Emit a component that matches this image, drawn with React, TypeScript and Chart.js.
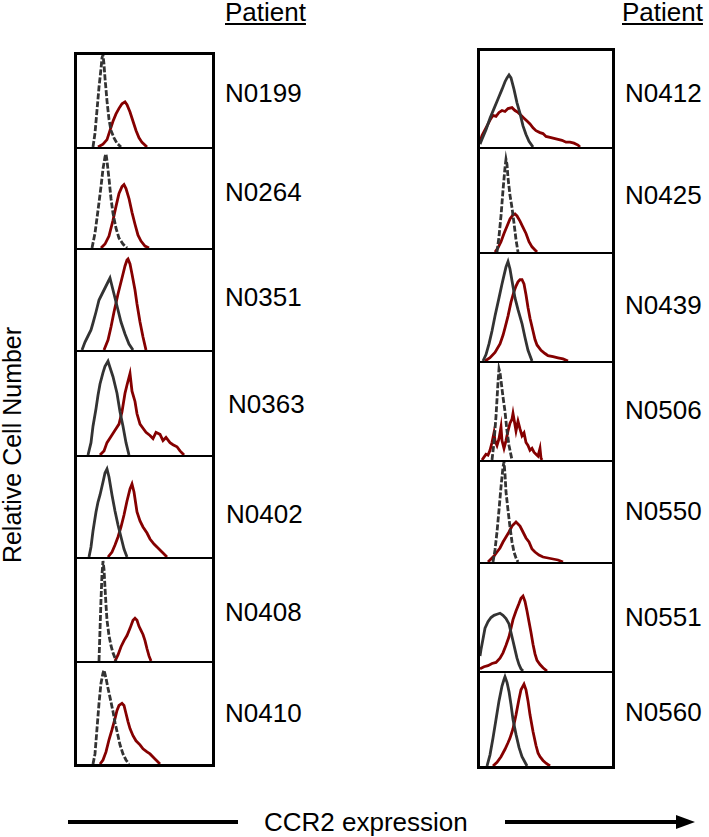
import React, { useEffect, useRef } from "react";
import { Chart, registerables } from "chart.js";
Chart.register(...registerables);

type Pt = [number, number];

const leftPatients = ["N0199", "N0264", "N0351", "N0363", "N0402", "N0408", "N0410"];
const rightPatients = ["N0412", "N0425", "N0439", "N0506", "N0550", "N0551", "N0560"];

// x = CCR2 fluorescence channel (relative), y = relative cell number (fraction of panel max)
const n0199Iso: Pt[] = [[18,0],[20,0.15],[22,0.4],[24,0.65],[26,0.85],[27,0.97],[28,1.0],[29,0.9],[30,0.75],[32,0.5],[34,0.3],[36,0.18],[39,0.1],[42,0.04],[46,0]];
const n0199Ccr2: Pt[] = [[23,0],[28,0.03],[32,0.08],[35,0.18],[38,0.28],[41,0.36],[44,0.42],[47,0.47],[50,0.49],[52,0.46],[55,0.38],[58,0.28],[61,0.18],[64,0.1],[67,0.05],[72,0]];
const n0264Iso: Pt[] = [[17,0],[20,0.15],[23,0.38],[26,0.62],[28,0.8],[30,0.92],[31,0.95],[32,0.88],[34,0.7],[36,0.5],[38,0.35],[41,0.2],[44,0.1],[48,0.04],[52,0]];
const n0264Ccr2: Pt[] = [[26,0],[30,0.04],[34,0.12],[38,0.28],[41,0.42],[44,0.55],[47,0.62],[49,0.64],[51,0.6],[54,0.5],[57,0.36],[60,0.24],[63,0.13],[66,0.07],[70,0.02],[74,0]];
const n0351Iso: Pt[] = [[7,0],[10,0.08],[13,0.14],[16,0.2],[18,0.27],[21,0.38],[24,0.5],[27,0.56],[30,0.62],[33,0.68],[35,0.72],[37,0.64],[40,0.52],[43,0.4],[46,0.28],[50,0.16],[54,0.06],[58,0]];
const n0351Ccr2: Pt[] = [[29,0],[33,0.1],[36,0.23],[39,0.38],[43,0.56],[45,0.64],[48,0.76],[50,0.84],[52,0.9],[53,0.91],[55,0.86],[57,0.76],[60,0.6],[62,0.46],[65,0.28],[68,0.13],[71,0]];
const n0363Iso: Pt[] = [[13,0],[16,0.12],[18,0.28],[21,0.45],[23,0.58],[25,0.69],[28,0.8],[30,0.86],[33,0.91],[35,0.85],[38,0.76],[42,0.6],[45,0.42],[48,0.28],[51,0.12],[54,0]];
const n0363Ccr2: Pt[] = [[25,0],[29,0.04],[32,0.12],[36,0.18],[40,0.24],[44,0.3],[47,0.42],[50,0.6],[52,0.68],[55,0.79],[57,0.62],[60,0.52],[62,0.4],[65,0.3],[68,0.26],[71,0.22],[75,0.19],[78,0.16],[81,0.22],[85,0.2],[88,0.14],[91,0.17],[95,0.12],[98,0.1],[102,0.08],[105,0.04],[109,0]];
const n0402Iso: Pt[] = [[14,0],[16,0.1],[18,0.26],[21,0.45],[23,0.55],[25,0.62],[28,0.75],[30,0.84],[32,0.88],[34,0.8],[37,0.62],[40,0.46],[43,0.32],[46,0.2],[49,0.08],[52,0]];
const n0402Ccr2: Pt[] = [[33,0],[37,0.05],[40,0.12],[43,0.2],[46,0.3],[49,0.42],[52,0.56],[55,0.68],[57,0.73],[59,0.65],[62,0.45],[65,0.36],[68,0.3],[72,0.24],[75,0.18],[79,0.13],[82,0.1],[86,0.06],[89,0.03],[92,0]];
const n0408Iso: Pt[] = [[24,0],[25,0.3],[26,0.6],[27,0.85],[28,0.98],[29,0.9],[30,0.72],[31,0.55],[32,0.4],[34,0.25],[36,0.15],[38,0.08],[40,0.03],[41,0]];
const n0408Ccr2: Pt[] = [[40,0],[43,0.06],[46,0.14],[49,0.2],[52,0.25],[55,0.32],[58,0.4],[60,0.42],[62,0.4],[64,0.34],[66,0.3],[68,0.26],[70,0.2],[72,0.12],[74,0.05],[76,0]];
const n0410Iso: Pt[] = [[18,0],[20,0.1],[22,0.35],[24,0.6],[26,0.8],[28,0.9],[29,0.93],[31,0.85],[33,0.75],[35,0.66],[38,0.52],[40,0.41],[43,0.28],[45,0.19],[48,0.1],[51,0.04],[54,0]];
const n0410Ccr2: Pt[] = [[25,0],[28,0.04],[31,0.12],[34,0.24],[37,0.34],[40,0.45],[42,0.53],[44,0.58],[47,0.6],[49,0.58],[51,0.5],[53,0.42],[55,0.35],[58,0.28],[61,0.23],[65,0.19],[68,0.15],[72,0.12],[75,0.1],[79,0.06],[82,0.03],[85,0]];

const n0412Iso: Pt[] = [[2,0.03],[4,0.08],[8,0.18],[12,0.3],[16,0.4],[20,0.5],[24,0.6],[27,0.68],[29,0.72],[31,0.75],[33,0.72],[36,0.6],[39,0.46],[42,0.35],[45,0.22],[48,0.13],[51,0.06],[55,0]];
const n0412Ccr2: Pt[] = [[2,0.05],[4,0.12],[8,0.2],[12,0.28],[15,0.33],[18,0.32],[21,0.36],[24,0.38],[27,0.37],[30,0.4],[34,0.41],[37,0.38],[40,0.36],[43,0.33],[46,0.3],[49,0.27],[52,0.24],[55,0.2],[58,0.17],[62,0.15],[65,0.14],[68,0.11],[72,0.1],[76,0.09],[80,0.08],[84,0.07],[88,0.05],[92,0.05],[96,0.04],[100,0.02],[102,0]];
const n0425Iso: Pt[] = [[19,0],[21,0.15],[23,0.35],[25,0.6],[27,0.82],[28,0.9],[29,0.85],[30,0.72],[32,0.55],[34,0.43],[36,0.28],[38,0.12],[40,0]];
const n0425Ccr2: Pt[] = [[17,0],[20,0.04],[23,0.1],[26,0.18],[29,0.25],[32,0.32],[35,0.36],[37,0.37],[39,0.35],[42,0.3],[45,0.24],[48,0.18],[51,0.1],[54,0.05],[57,0.02],[59,0]];
const n0439Iso: Pt[] = [[5,0],[8,0.06],[11,0.16],[14,0.28],[17,0.42],[21,0.59],[24,0.72],[26,0.8],[28,0.88],[30,0.93],[32,0.86],[34,0.75],[37,0.59],[40,0.48],[44,0.35],[47,0.22],[50,0.1],[54,0]];
const n0439Ccr2: Pt[] = [[7,0],[12,0.03],[17,0.08],[22,0.16],[25,0.24],[27,0.31],[30,0.42],[33,0.55],[36,0.65],[38,0.7],[40,0.74],[42,0.76],[44,0.76],[46,0.72],[48,0.62],[50,0.5],[52,0.4],[55,0.28],[57,0.2],[59,0.15],[63,0.1],[67,0.07],[70,0.05],[75,0.04],[80,0.03],[85,0.02],[90,0]];
const n0506Iso: Pt[] = [[14,0],[16,0.18],[18,0.45],[20,0.8],[21,0.94],[22,0.9],[23,0.82],[25,0.65],[27,0.5],[29,0.3],[31,0.15],[33,0.05],[34,0]];
const n0506Ccr2: Pt[] = [[4,0],[6,0.03],[8,0.06],[10,0.05],[12,0.1],[14,0.18],[16,0.28],[17,0.2],[19,0.15],[21,0.22],[23,0.34],[24,0.2],[26,0.12],[28,0.2],[30,0.3],[32,0.38],[34,0.42],[35,0.48],[37,0.36],[38,0.3],[40,0.4],[42,0.32],[44,0.25],[46,0.28],[48,0.18],[50,0.15],[52,0.1],[54,0.12],[56,0.08],[58,0.06],[60,0.04],[62,0.12],[63,0.02],[64,0]];
const n0550Iso: Pt[] = [[15,0],[17,0.12],[19,0.3],[21,0.52],[23,0.75],[25,0.95],[26,1.0],[27,0.88],[28,0.7],[30,0.52],[32,0.35],[34,0.2],[36,0.1],[38,0.04],[40,0]];
const n0550Ccr2: Pt[] = [[10,0],[13,0.03],[16,0.06],[19,0.1],[22,0.14],[25,0.2],[28,0.25],[31,0.3],[34,0.36],[36,0.38],[38,0.4],[40,0.38],[42,0.36],[45,0.3],[48,0.24],[51,0.2],[54,0.13],[57,0.1],[61,0.07],[65,0.05],[70,0.04],[75,0.03],[80,0.02],[85,0]];
const n0551Iso: Pt[] = [[2,0.14],[3,0.2],[5,0.3],[7,0.4],[10,0.46],[13,0.5],[16,0.52],[19,0.53],[22,0.54],[25,0.52],[28,0.49],[31,0.44],[33,0.36],[35,0.28],[37,0.2],[39,0.12],[41,0.06],[43,0.02],[45,0]];
const n0551Ccr2: Pt[] = [[2,0.02],[6,0.04],[10,0.05],[14,0.07],[18,0.08],[22,0.12],[25,0.17],[28,0.24],[31,0.32],[33,0.4],[35,0.48],[38,0.56],[41,0.63],[43,0.68],[45,0.7],[47,0.65],[49,0.56],[51,0.46],[53,0.36],[55,0.25],[57,0.16],[59,0.1],[62,0.06],[65,0.03],[69,0]];
const n0560Iso: Pt[] = [[9,0],[12,0.12],[15,0.3],[18,0.5],[21,0.7],[24,0.86],[26,0.93],[27,0.96],[29,0.9],[31,0.8],[33,0.66],[35,0.5],[38,0.34],[41,0.2],[44,0.1],[47,0.04],[49,0]];
const n0560Ccr2: Pt[] = [[15,0],[19,0.04],[23,0.1],[27,0.18],[30,0.25],[32,0.3],[35,0.4],[38,0.55],[41,0.72],[43,0.82],[46,0.88],[48,0.82],[50,0.7],[52,0.55],[55,0.37],[58,0.22],[60,0.14],[62,0.1],[65,0.06],[68,0.03],[72,0]];

const isoSeries: Record<string, Pt[]> = {
  N0199: n0199Iso, N0264: n0264Iso, N0351: n0351Iso, N0363: n0363Iso, N0402: n0402Iso, N0408: n0408Iso, N0410: n0410Iso,
  N0412: n0412Iso, N0425: n0425Iso, N0439: n0439Iso, N0506: n0506Iso, N0550: n0550Iso, N0551: n0551Iso, N0560: n0560Iso,
};
const ccr2Series: Record<string, Pt[]> = {
  N0199: n0199Ccr2, N0264: n0264Ccr2, N0351: n0351Ccr2, N0363: n0363Ccr2, N0402: n0402Ccr2, N0408: n0408Ccr2, N0410: n0410Ccr2,
  N0412: n0412Ccr2, N0425: n0425Ccr2, N0439: n0439Ccr2, N0506: n0506Ccr2, N0550: n0550Ccr2, N0551: n0551Ccr2, N0560: n0560Ccr2,
};
const dashedIso = ["N0199", "N0264", "N0408", "N0410", "N0425", "N0506", "N0550"];

// layout
const leftEdges = [52, 147, 248, 350, 455, 557, 661, 767];
const rightEdges = [48, 147, 252, 361, 460, 562, 671, 769];
const leftLabelY = [93, 192, 297, 404, 514, 612, 713];
const leftLabelX = [225, 225, 225, 228, 226, 225, 225];
const rightLabelY = [93, 195, 305, 410, 511, 617, 712];

const FONT = "'Liberation Sans', Arial, Helvetica, sans-serif";

type PanelProps = { patient: string; left: number; top: number; width: number; height: number; first: boolean; last: boolean };

function Panel({ patient, left, top, width, height, first, last }: PanelProps) {
  const ref = useRef<HTMLCanvasElement>(null);
  const bt = first ? 3 : 2;
  const bb = last ? 3 : 0;
  const cw = width - 6;
  const ch = height - bt - bb;
  useEffect(() => {
    const iso = isoSeries[patient];
    const ccr2 = ccr2Series[patient];
    const chart = new Chart(ref.current!, {
      type: "line",
      data: {
        datasets: [
          {
            data: iso.map(([x, y]) => ({ x, y })),
            borderColor: "#333333",
            borderWidth: 2.8,
            borderDash: dashedIso.includes(patient) ? [6, 2] : [],
            pointRadius: 0,
            tension: 0,
            fill: false,
          },
          {
            data: ccr2.map(([x, y]) => ({ x, y })),
            borderColor: "#850000",
            borderWidth: 2.8,
            pointRadius: 0,
            tension: 0,
            fill: false,
          },
        ],
      },
      options: {
        animation: false,
        responsive: false,
        events: [],
        layout: { padding: 0 },
        plugins: { legend: { display: false }, tooltip: { enabled: false } },
        scales: {
          x: { type: "linear", display: false, min: 2, max: 2 + cw },
          y: { type: "linear", display: false, min: 0, max: 1 },
        },
      },
    });
    return () => chart.destroy();
  }, [patient, cw, ch]);
  return (
    <div
      style={{
        position: "absolute",
        left,
        top,
        width,
        height,
        boxSizing: "border-box",
        borderLeft: "3px solid #000",
        borderRight: "3px solid #000",
        borderTop: `${bt}px solid #000`,
        borderBottom: bb ? `${bb}px solid #000` : "none",
        background: "#fff",
      }}
    >
      <canvas ref={ref} width={cw} height={ch} style={{ display: "block", width: cw, height: ch }} />
    </div>
  );
}

const labelStyle: React.CSSProperties = {
  position: "absolute",
  fontFamily: FONT,
  fontSize: 26,
  lineHeight: "26px",
  color: "#000",
  whiteSpace: "nowrap",
};

export default function App() {
  return (
    <div style={{ position: "absolute", left: 0, top: 0, width: 709, height: 837, background: "#fff", overflow: "hidden" }}>
      <div style={{ ...labelStyle, left: 225, top: -1, textDecoration: "underline" }}>Patient</div>
      <div style={{ ...labelStyle, left: 622, top: -1, textDecoration: "underline" }}>Patient</div>

      {leftPatients.map((p, i) => (
        <Panel key={p} patient={p} left={74} top={leftEdges[i]} width={141} height={leftEdges[i + 1] - leftEdges[i]} first={i === 0} last={i === leftPatients.length - 1} />
      ))}
      {rightPatients.map((p, i) => (
        <Panel key={p} patient={p} left={477} top={rightEdges[i]} width={138} height={rightEdges[i + 1] - rightEdges[i]} first={i === 0} last={i === rightPatients.length - 1} />
      ))}

      {leftPatients.map((p, i) => (
        <div key={"l" + p} style={{ ...labelStyle, left: leftLabelX[i], top: leftLabelY[i] - 13 }}>{p}</div>
      ))}
      {rightPatients.map((p, i) => (
        <div key={"r" + p} style={{ ...labelStyle, left: 625, top: rightLabelY[i] - 13 }}>{p}</div>
      ))}

      <div
        style={{
          ...labelStyle,
          fontSize: 25,
          left: 12,
          top: 445,
          transform: "translate(-50%, -50%) rotate(-90deg)",
        }}
      >
        Relative Cell Number
      </div>

      <div style={{ position: "absolute", left: 68, top: 820, width: 170, height: 4, background: "#000" }} />
      <div style={{ ...labelStyle, left: 264, top: 809 }}>CCR2 expression</div>
      <svg style={{ position: "absolute", left: 500, top: 810, overflow: "visible" }} width={200} height={24}>
        <line x1={5} y1={12} x2={180} y2={12} stroke="#000" strokeWidth={4} />
        <polygon points="176,5 195,12 176,19" fill="#000" />
      </svg>
    </div>
  );
}
